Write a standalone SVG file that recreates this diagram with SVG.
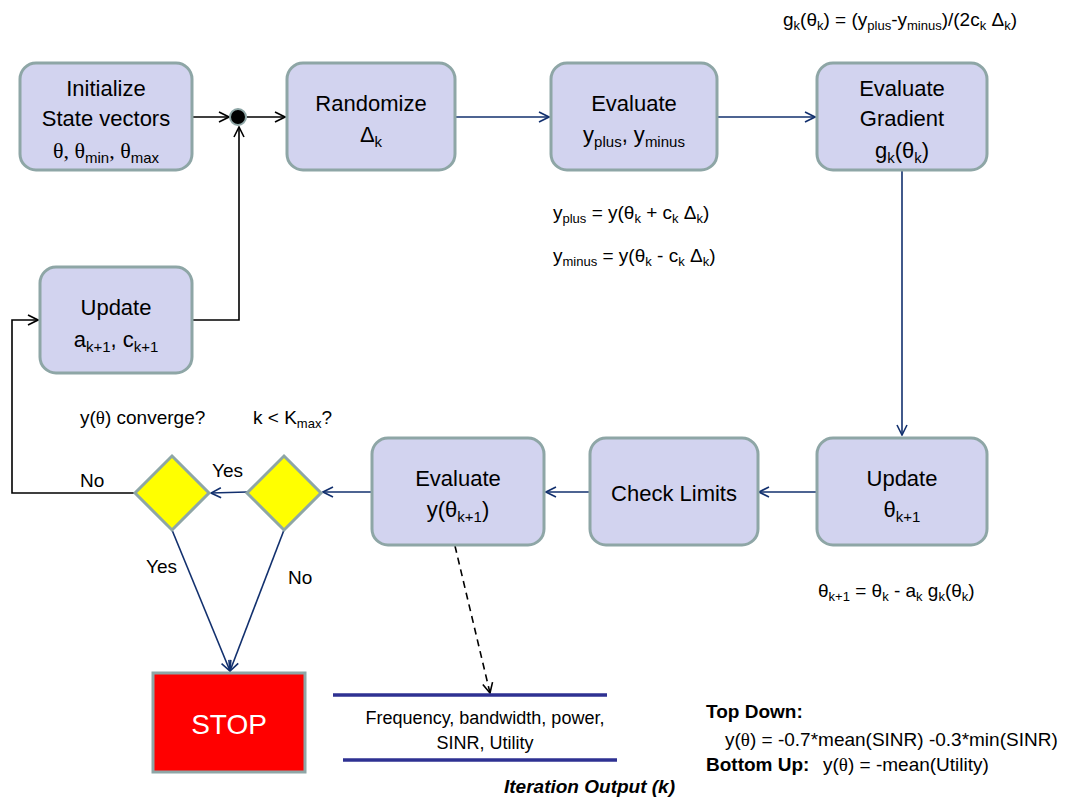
<svg xmlns="http://www.w3.org/2000/svg" width="1067" height="800" viewBox="0 0 1067 800">
  <style>
    .box { fill: #d2d3ef; stroke: #8ea6a6; stroke-width: 3; }
    .dia { fill: #ffff00; stroke: #8ea6a6; stroke-width: 3; }
    .t { font-family: "Liberation Sans", Arial, sans-serif; fill: #000; }
    .bt { font-size: 22px; text-anchor: middle; }
    .f { font-size: 19px; }
    .s { font-family: "Liberation Serif", "Times New Roman", serif; }
    .sb { font-size: 15px; }
    .sf { font-size: 13px; }
    .blue { stroke: #12306e; stroke-width: 1.6; fill: none; }
    .blk { stroke: #000; stroke-width: 1.6; fill: none; }
    .out { stroke: #2e3192; stroke-width: 3.5; }
  </style>
  <defs>
    <marker id="ab" viewBox="0 0 12 12" refX="11" refY="6" markerWidth="12" markerHeight="12" markerUnits="userSpaceOnUse" orient="auto">
      <path d="M1,1 L11,6 L1,11" fill="none" stroke="#12306e" stroke-width="1.6"/>
    </marker>
    <marker id="ak" viewBox="0 0 12 12" refX="11" refY="6" markerWidth="12" markerHeight="12" markerUnits="userSpaceOnUse" orient="auto">
      <path d="M1,1 L11,6 L1,11" fill="none" stroke="#000" stroke-width="1.6"/>
    </marker>
  </defs>

  <!-- connectors -->
  <g id="connectors">
    <line class="blk" x1="192" y1="117" x2="229" y2="117" marker-end="url(#ak)"/>
    <line class="blk" x1="247" y1="117" x2="285" y2="117" marker-end="url(#ak)"/>
    <polyline class="blk" points="192,320 239,320 239,127" marker-end="url(#ak)"/>
    <line class="blue" x1="455" y1="117" x2="549" y2="117" marker-end="url(#ab)"/>
    <line class="blue" x1="717" y1="117" x2="815" y2="117" marker-end="url(#ab)"/>
    <line class="blue" x1="902" y1="170" x2="902" y2="435" marker-end="url(#ab)"/>
    <line class="blue" x1="817" y1="492" x2="759" y2="492" marker-end="url(#ab)"/>
    <line class="blue" x1="590" y1="492" x2="546" y2="492" marker-end="url(#ab)"/>
    <line class="blue" x1="372" y1="492" x2="323" y2="492" marker-end="url(#ab)"/>
    <line class="blue" x1="247" y1="492" x2="211" y2="493" marker-end="url(#ab)"/>
    <polyline class="blk" points="135,493 12,493 12,320 38,320" marker-end="url(#ak)"/>
    <line class="blue" x1="172" y1="530" x2="230" y2="671" marker-end="url(#ab)"/>
    <line class="blue" x1="284" y1="530" x2="230" y2="671" marker-end="url(#ab)"/>
    <line class="blk" x1="455" y1="546" x2="490" y2="693" stroke-dasharray="7,5" stroke-width="1.3" marker-end="url(#ak)"/>
  </g>

  <!-- process boxes -->
  <g id="init">
    <rect class="box" x="20" y="63" width="172" height="107" rx="16"/>
    <text class="t bt" x="106" y="96">Initialize</text>
    <text class="t bt" x="106" y="126">State vectors</text>
    <text class="t bt" x="106" y="158"><tspan class="s">θ, θ</tspan><tspan class="sb" baseline-shift="-5">min</tspan><tspan class="s">, θ</tspan><tspan class="sb" baseline-shift="-5">max</tspan></text>
  </g>
  <g id="junction">
    <circle cx="238" cy="117" r="8" fill="#000" stroke="#8ea6a6" stroke-width="2"/>
  </g>
  <g id="randomize">
    <rect class="box" x="287" y="63" width="168" height="107" rx="16"/>
    <text class="t bt" x="371" y="111">Randomize</text>
    <text class="t bt" x="371" y="142">Δ<tspan class="sb" baseline-shift="-5">k</tspan></text>
  </g>
  <g id="eval-y">
    <rect class="box" x="551" y="63" width="166" height="107" rx="16"/>
    <text class="t bt" x="634" y="111">Evaluate</text>
    <text class="t bt" x="634" y="142">y<tspan class="sb" baseline-shift="-5">plus</tspan>, y<tspan class="sb" baseline-shift="-5">minus</tspan></text>
  </g>
  <g id="eval-gradient">
    <rect class="box" x="817" y="63" width="170" height="107" rx="16"/>
    <text class="t bt" x="902" y="96">Evaluate</text>
    <text class="t bt" x="902" y="126">Gradient</text>
    <text class="t bt" x="902" y="158">g<tspan class="sb" baseline-shift="-5">k</tspan>(θ<tspan class="sb" baseline-shift="-5">k</tspan>)</text>
  </g>
  <g id="update-ac">
    <rect class="box" x="40" y="267" width="152" height="106" rx="16"/>
    <text class="t bt" x="116" y="315">Update</text>
    <text class="t bt" x="116" y="347">a<tspan class="sb" baseline-shift="-5">k+1</tspan>, c<tspan class="sb" baseline-shift="-5">k+1</tspan></text>
  </g>
  <g id="update-theta">
    <rect class="box" x="817" y="438" width="170" height="107" rx="16"/>
    <text class="t bt" x="902" y="486">Update</text>
    <text class="t bt" x="902" y="517">θ<tspan class="sb" baseline-shift="-5">k+1</tspan></text>
  </g>
  <g id="check-limits">
    <rect class="box" x="590" y="438" width="168" height="107" rx="16"/>
    <text class="t bt" x="674" y="501">Check Limits</text>
  </g>
  <g id="eval-y-next">
    <rect class="box" x="372" y="438" width="172" height="107" rx="16"/>
    <text class="t bt" x="458" y="486">Evaluate</text>
    <text class="t bt" x="458" y="517">y(θ<tspan class="sb" baseline-shift="-5">k+1</tspan>)</text>
  </g>

  <!-- decisions -->
  <g id="converge">
    <polygon class="dia" points="172,456 209,493 172,530 135,493"/>
    <text class="t f" x="80" y="424">y(<tspan class="s">θ</tspan>) converge?</text>
  </g>
  <g id="kmax">
    <polygon class="dia" points="284,456 321,493 284,530 247,493"/>
    <text class="t f" x="253" y="424">k &lt; K<tspan class="sf" baseline-shift="-4">max</tspan>?</text>
  </g>

  <!-- stop -->
  <g id="stop">
    <rect x="153" y="673" width="152" height="99" fill="#ff0000" stroke="#8ea6a6" stroke-width="3"/>
    <text class="t" x="229" y="734" font-size="28" text-anchor="middle" style="fill:#fff">STOP</text>
  </g>

  <!-- iteration output store -->
  <g id="iteration-output">
    <line class="out" x1="333" y1="695" x2="607" y2="695"/>
    <line class="out" x1="343" y1="760" x2="617" y2="760"/>
    <text class="t" font-size="18" x="485" y="724" text-anchor="middle">Frequency, bandwidth, power,</text>
    <text class="t" font-size="18" x="485" y="749" text-anchor="middle">SINR, Utility</text>
    <text class="t f" x="675" y="793" text-anchor="end" font-weight="bold" font-style="italic">Iteration Output (k)</text>
  </g>

  <!-- edge labels -->
  <g id="labels" class="t f">
    <text x="212" y="477">Yes</text>
    <text x="80" y="487">No</text>
    <text x="146" y="573">Yes</text>
    <text x="288" y="584">No</text>
  </g>

  <!-- formulas -->
  <g id="formulas" class="t f">
    <text x="783" y="26">g<tspan class="sf" baseline-shift="-4">k</tspan>(θ<tspan class="sf" baseline-shift="-4">k</tspan>) = (y<tspan class="sf" baseline-shift="-4">plus</tspan>-y<tspan class="sf" baseline-shift="-4">minus</tspan>)/(2c<tspan class="sf" baseline-shift="-4">k</tspan> Δ<tspan class="sf" baseline-shift="-4">k</tspan>)</text>
    <text x="553" y="219">y<tspan class="sf" baseline-shift="-4">plus</tspan> = y(θ<tspan class="sf" baseline-shift="-4">k</tspan> + c<tspan class="sf" baseline-shift="-4">k</tspan> Δ<tspan class="sf" baseline-shift="-4">k</tspan>)</text>
    <text x="553" y="262">y<tspan class="sf" baseline-shift="-4">minus</tspan> = y(θ<tspan class="sf" baseline-shift="-4">k</tspan> - c<tspan class="sf" baseline-shift="-4">k</tspan> Δ<tspan class="sf" baseline-shift="-4">k</tspan>)</text>
    <text x="818" y="597">θ<tspan class="sf" baseline-shift="-4">k+1</tspan> = θ<tspan class="sf" baseline-shift="-4">k</tspan> - a<tspan class="sf" baseline-shift="-4">k</tspan> g<tspan class="sf" baseline-shift="-4">k</tspan>(θ<tspan class="sf" baseline-shift="-4">k</tspan>)</text>
    <text x="706" y="718" font-weight="bold">Top Down:</text>
    <text x="725" y="746">y(<tspan class="s">θ</tspan>) = -0.7*mean(SINR) -0.3*min(SINR)</text>
    <text x="706" y="771"><tspan font-weight="bold">Bottom Up:</tspan><tspan x="823">y(<tspan class="s">θ</tspan>) = -mean(Utility)</tspan></text>
  </g>
</svg>
